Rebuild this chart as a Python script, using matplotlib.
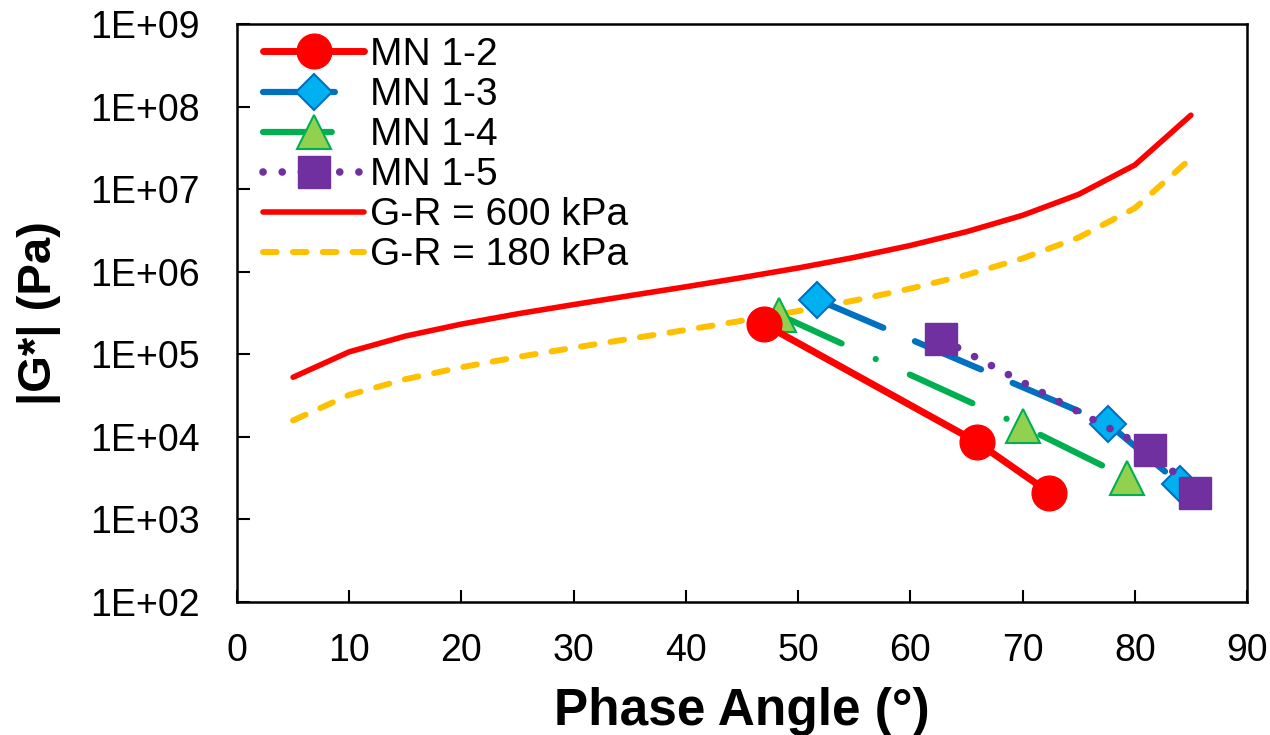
import matplotlib
matplotlib.use("Agg")
import matplotlib.pyplot as plt
from matplotlib.ticker import FixedLocator, FuncFormatter
import numpy as np

plt.rcParams["font.family"] = ["Liberation Sans", "DejaVu Sans"]

# Glover-Rowe limit curves
gr_delta = [5, 10, 15, 20, 25, 30, 35, 40, 45, 50, 55, 60, 65, 70, 75, 80, 85]
gr600 = [5.27e4, 1.07e5, 1.66e5, 2.32e5, 3.09e5, 4.0e5, 5.13e5, 6.57e5, 8.49e5,
         1.11e6, 1.49e6, 2.08e6, 3.05e6, 4.82e6, 8.65e6, 1.96e7, 7.87e7]
gr180 = [1.58e4, 3.22e4, 4.99e4, 6.97e4, 9.26e4, 1.2e5, 1.54e5, 1.97e5, 2.55e5,
         3.34e5, 4.48e5, 6.24e5, 9.13e5, 1.45e6, 2.6e6, 5.88e6, 2.36e7]

# mixture measurements
mn12_x = [47.0, 65.9, 72.4]
mn12_y = [2.3e5, 8.7e3, 2.1e3]
mn13_x = [51.7, 77.6, 84.0]
mn13_y = [4.6e5, 1.45e4, 2.7e3]
mn14_x = [48.3, 70.0, 79.3]
mn14_y = [3.0e5, 1.35e4, 3.2e3]
mn15_x = [62.7, 81.4, 85.4]
mn15_y = [1.55e5, 6.9e3, 2.1e3]

fig = plt.figure(figsize=(12.7, 7.35), dpi=100)
ax = fig.add_axes([0.1866, 0.181, 0.7953, 0.7863])

ax.plot(mn12_x, mn12_y, color="#ff0000", lw=5, solid_capstyle="round",
        marker="o", ms=25, mfc="#ff0000", mec="#ff0000", label="MN 1-2", zorder=5)
ax.plot(mn13_x, mn13_y, color="#0070c0", lw=4.5, ls=(0, (11.5, 5.5)), dash_capstyle="round",
        marker="D", ms=18, mfc="#00b0f0", mec="#0070c0", mew=1.5, label="MN 1-3", zorder=4)
ax.plot(mn14_x, mn14_y, color="#00b050", lw=4.5, ls=(0, (11, 6, 0.01, 6)), dash_capstyle="round",
        marker="^", ms=24, mfc="#92d050", mec="#00b050", mew=1.5, label="MN 1-4", zorder=4)
ax.plot(mn15_x, mn15_y, color="#7030a0", lw=5.5, ls=(0, (0.01, 2.5)), dash_capstyle="round",
        marker="s", ms=23, mfc="#7030a0", mec="#7030a0", label="MN 1-5", zorder=6)
ax.plot(gr_delta, gr600, color="#ff0000", lw=4, solid_capstyle="round",
        label="G-R = 600 kPa", zorder=3)
ax.plot(gr_delta, gr180, color="#ffc000", lw=4.3, ls=(0, (2.3, 2.7)), dash_capstyle="round",
        label="G-R = 180 kPa", zorder=3)

ax.set_yscale("log")
ax.set_xlim(0, 90)
ax.set_ylim(1e2, 1e9)
ax.xaxis.set_major_locator(FixedLocator(np.arange(0, 91, 10)))
ax.yaxis.set_major_locator(FixedLocator([10.0 ** k for k in range(2, 10)]))
ax.yaxis.set_minor_locator(FixedLocator([]))
ax.yaxis.set_major_formatter(FuncFormatter(lambda v, p: f"1E+{int(round(np.log10(v))):02d}"))
ax.tick_params(direction="in", length=9, width=1.5, labelsize=27)
ax.tick_params(axis="x", pad=22)
ax.tick_params(axis="y", pad=27)
for s in ax.spines.values():
    s.set_linewidth(1.8)

ax.set_xlabel("Phase Angle (°)", fontsize=37, fontweight="bold", labelpad=13)
ax.set_ylabel("|G*| (Pa)", fontsize=34, fontweight="bold", labelpad=21)

ax.legend(loc="upper left", frameon=False, fontsize=28, handlelength=2.6,
          handletextpad=0.15, labelspacing=0.105, borderpad=0, borderaxespad=0,
          bbox_to_anchor=(26 / 1010, 0.9775))

fig.savefig("out.png", dpi=100)
